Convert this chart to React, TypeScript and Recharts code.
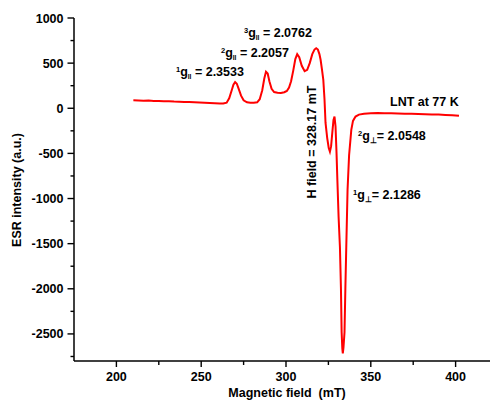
import { LineChart, Line, XAxis, YAxis } from 'recharts';

// ESR spectrum, LNT at 77 K
const fieldMT = [
  210, 213, 216, 219, 222, 225, 228, 231, 234, 237, 240, 243, 246, 249, 252, 255, 258, 261, 263,
  265, 266.5, 268, 269, 270, 271, 272, 273.5, 275, 277, 279, 281, 283, 284.5, 286, 287.2, 288.2,
  289.2, 290.2, 291.5, 293, 295, 297, 299, 300.5, 301.8, 303, 304.3, 305.5, 306.6, 307.8, 309.3,
  311, 312.5, 314, 315.5, 316.8, 317.8, 318.8, 319.7, 320.4, 321.2, 322, 322.7, 323.3, 324.3,
  325.2, 325.9, 326.6, 327.3, 328, 328.6, 329.2, 329.8, 330.3, 331, 331.8, 332.4, 332.8, 333.2,
  333.5, 333.9, 334.5, 335, 335.5, 336.3, 337.2, 338.5, 339.5, 341, 343, 346, 350, 354, 358, 362,
  366, 370, 374, 378, 382, 386, 390, 394, 398, 402,
];
const intensity = [
  88, 86, 84, 85, 81, 80, 78, 77, 74, 73, 70, 69, 66, 64, 61, 59, 56, 53, 52,
  62, 110, 200, 262, 290, 272, 220, 140, 88, 66, 60, 60, 66, 100, 200, 330, 405,
  385, 300, 215, 180, 172, 170, 178, 192, 230, 300, 420, 545, 600, 565, 470,
  410, 425, 500, 600, 650, 665, 650, 600, 537, 430, 315, 100, -160, -330,
  -440, -480, -420, -270, -130, -92, -200, -500, -800, -1200, -1540, -2000, -2480, -2660,
  -2715, -2650, -2480, -2000, -1570, -900, -520, -240, -140, -92, -70, -60, -55, -52, -55, -56,
  -58, -60, -62, -64, -66, -68, -70, -74, -78, -84,
];

const xTicks = [200, 225, 250, 275, 300, 325, 350, 375, 400];
const yTicks = [
  -2750, -2500, -2250, -2000, -1750, -1500, -1250, -1000, -750, -500, -250, 0, 250, 500, 750, 1000,
];

const data = fieldMT.map((f, i) => ({ f, v: intensity[i] }));

const font = '"Liberation Sans", Arial, sans-serif';
const textStyle = { fontFamily: font, fontWeight: 700, fontSize: 12.5, fill: '#000' };

// tick marks drawn by hand so major and minor ticks can differ in length
const BottomTick = (props: any) => {
  const { x, y, payload } = props;
  const major = payload.value % 50 === 0;
  return (
    <g>
      <line x1={x} y1={y} x2={x} y2={y + (major ? 6 : 4)} stroke="#000" strokeWidth={1.4} />
      {major && (
        <text x={x} y={y + 20} textAnchor="middle" style={textStyle}>
          {payload.value}
        </text>
      )}
    </g>
  );
};

const TopTick = (props: any) => {
  const { x, y, payload } = props;
  const major = payload.value % 50 === 0;
  return <line x1={x} y1={y} x2={x} y2={y + (major ? 6 : 4)} stroke="#000" strokeWidth={1.4} />;
};

const LeftTick = (props: any) => {
  const { x, y, payload } = props;
  const major = payload.value % 500 === 0;
  return (
    <g>
      <line x1={x} y1={y} x2={x - (major ? 6.5 : 3.5)} y2={y} stroke="#000" strokeWidth={1.4} />
      {major && (
        <text x={x - 10.5} y={y + 4.5} textAnchor="end" style={textStyle}>
          {payload.value}
        </text>
      )}
    </g>
  );
};

const axisLine = { stroke: '#000', strokeWidth: 1.5 };

export default function App() {
  return (
    <div style={{ position: 'absolute', left: 0, top: 0, width: 490, height: 401, overflow: 'hidden', background: '#fff' }}>
      <LineChart width={510} height={401} data={data} margin={{ top: 18, right: 12, bottom: 0, left: 0 }}>
        <XAxis
          xAxisId="bottom"
          dataKey="f"
          type="number"
          domain={[175, 425]}
          ticks={xTicks}
          interval={0}
          height={40}
          tickSize={0}
          tickMargin={0}
          tickLine={false}
          axisLine={axisLine}
          tick={BottomTick}
        />
        <XAxis
          xAxisId="top"
          orientation="top"
          dataKey="f"
          type="number"
          domain={[175, 425]}
          ticks={xTicks}
          interval={0}
          height={0}
          tickSize={0}
          tickMargin={0}
          tickLine={false}
          axisLine={axisLine}
          tick={TopTick}
        />
        <YAxis
          yAxisId="left"
          type="number"
          domain={[-2800, 1000]}
          ticks={yTicks}
          interval={0}
          width={74}
          tickSize={0}
          tickMargin={0}
          tickLine={false}
          axisLine={axisLine}
          tick={LeftTick}
        />
        <Line
          xAxisId="bottom"
          yAxisId="left"
          dataKey="v"
          type="linear"
          stroke="#ff0000"
          strokeWidth={2}
          dot={false}
          isAnimationActive={false}
        />
      </LineChart>
      <svg width={490} height={401} style={{ position: 'absolute', left: 0, top: 0, pointerEvents: 'none' }}>
        <text transform="translate(17,190) rotate(-90)" textAnchor="middle" dominantBaseline="central" style={textStyle}>
          ESR intensity (a.u.)
        </text>
        <text x={287} y={397} textAnchor="middle" style={textStyle} xmlSpace="preserve">
          Magnetic field  (mT)
        </text>
        <text x={176} y={76} style={textStyle}>
          <tspan fontSize={7.5} dy={-4.5}>1</tspan>
          <tspan dy={4.5}>g</tspan>
          <tspan fontSize={6.5} dy={2.5}>II</tspan>
          <tspan dy={-2.5}> = 2.3533</tspan>
        </text>
        <text x={221} y={57} style={textStyle}>
          <tspan fontSize={7.5} dy={-4.5}>2</tspan>
          <tspan dy={4.5}>g</tspan>
          <tspan fontSize={6.5} dy={2.5}>II</tspan>
          <tspan dy={-2.5}> = 2.2057</tspan>
        </text>
        <text x={244} y={37} style={textStyle}>
          <tspan fontSize={7.5} dy={-4.5}>3</tspan>
          <tspan dy={4.5}>g</tspan>
          <tspan fontSize={6.5} dy={2.5}>II</tspan>
          <tspan dy={-2.5}> = 2.0762</tspan>
        </text>
        <text transform="translate(312,142) rotate(-90)" textAnchor="middle" dominantBaseline="central" style={textStyle}>
          H field = 328.17 mT
        </text>
        <text x={390} y={106} style={textStyle}>
          LNT at 77 K
        </text>
        <text x={358} y={140} style={textStyle}>
          <tspan fontSize={7.5} dy={-4.5}>2</tspan>
          <tspan dy={4.5}>g</tspan>
          <tspan fontSize={7.5} dy={3}>⊥</tspan>
          <tspan dy={-3}>= 2.0548</tspan>
        </text>
        <text x={353} y={199} style={textStyle}>
          <tspan fontSize={7.5} dy={-4.5}>1</tspan>
          <tspan dy={4.5}>g</tspan>
          <tspan fontSize={7.5} dy={3}>⊥</tspan>
          <tspan dy={-3}>= 2.1286</tspan>
        </text>
      </svg>
    </div>
  );
}
